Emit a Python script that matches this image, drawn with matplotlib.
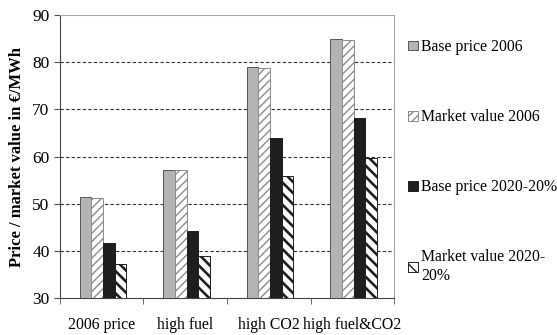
import matplotlib
matplotlib.use("Agg")
import matplotlib.pyplot as plt
import numpy as np

# ---- Data ----
scenarios = ["2006 price", "high fuel", "high CO2", "high fuel&CO2"]
base_2006 = [51.4, 57.2, 78.9, 85.0]
market_2006 = [51.1, 57.2, 78.8, 84.7]
base_2020 = [41.7, 44.3, 63.9, 68.1]
market_2020 = [37.3, 38.9, 55.9, 59.7]
series_labels = ["Base price 2006", "Market value 2006",
                 "Base price 2020-20%", "Market value 2020-\n20%"]

plt.rcParams["font.family"] = ["Liberation Serif", "DejaVu Serif"]

fig = plt.figure(figsize=(5.57, 3.35), dpi=100)
ax = fig.add_axes([0.1077, 0.1104, 0.5997, 0.8448])

x = np.arange(len(scenarios))
w = 0.138
offs = np.array([-1.5, -0.5, 0.5, 1.5]) * w + 0.015

handles = []
with plt.rc_context({"hatch.linewidth": 1.0}):
    h = ax.bar(x + offs[0], base_2006, w, color="#b3b3b3",
               edgecolor="#555555", linewidth=0.7, zorder=3)
    handles.append(h)
    h = ax.bar(x + offs[1], market_2006, w, color="white", hatch="////",
               edgecolor="#8c8c8c", linewidth=0.7, zorder=3)
    handles.append(h)
    h = ax.bar(x + offs[2], base_2020, w, color="#1e1e1e",
               edgecolor="#1e1e1e", linewidth=0.7, zorder=3)
    handles.append(h)
with plt.rc_context({"hatch.linewidth": 1.9}):
    h = ax.bar(x + offs[3], market_2020, w, color="white", hatch="\\\\\\",
               edgecolor="#1e1e1e", linewidth=0.7, zorder=3)
    handles.append(h)

ax.set_ylim(30, 90)
ax.set_xlim(-0.5, len(scenarios) - 0.5)
ax.set_yticks(np.arange(30, 91, 10))
ax.set_xticks(x)
ax.set_xticklabels(scenarios, fontsize=11.3)
ax.set_xticks(np.arange(-0.5, len(scenarios), 1), minor=True)
ax.tick_params(axis="x", which="major", length=0, pad=14)
ax.tick_params(axis="x", which="minor", length=4, direction="out", color="#555555")
ax.tick_params(axis="y", length=4, direction="out", labelsize=12.5, color="#555555")
for v in range(40, 90, 10):
    ax.axhline(v, color="#333333", linewidth=0.8, linestyle=(0, (3, 2)), zorder=1)

for side in ["left", "bottom"]:
    ax.spines[side].set_color("#444444")
for side in ["top", "right"]:
    ax.spines[side].set_color("#a6a6a6")

ax.set_ylabel("Price / market value in €/MWh", fontsize=12, fontweight="bold",
              labelpad=5)

ax.legend(handles, series_labels, loc="upper left", bbox_to_anchor=(1.0, 0.965),
          frameon=False, fontsize=11.3, handlelength=0.6, handleheight=0.6,
          handletextpad=0.25, labelspacing=3.45, borderaxespad=0.5)

fig.savefig("out.png", dpi=100, facecolor="white")
